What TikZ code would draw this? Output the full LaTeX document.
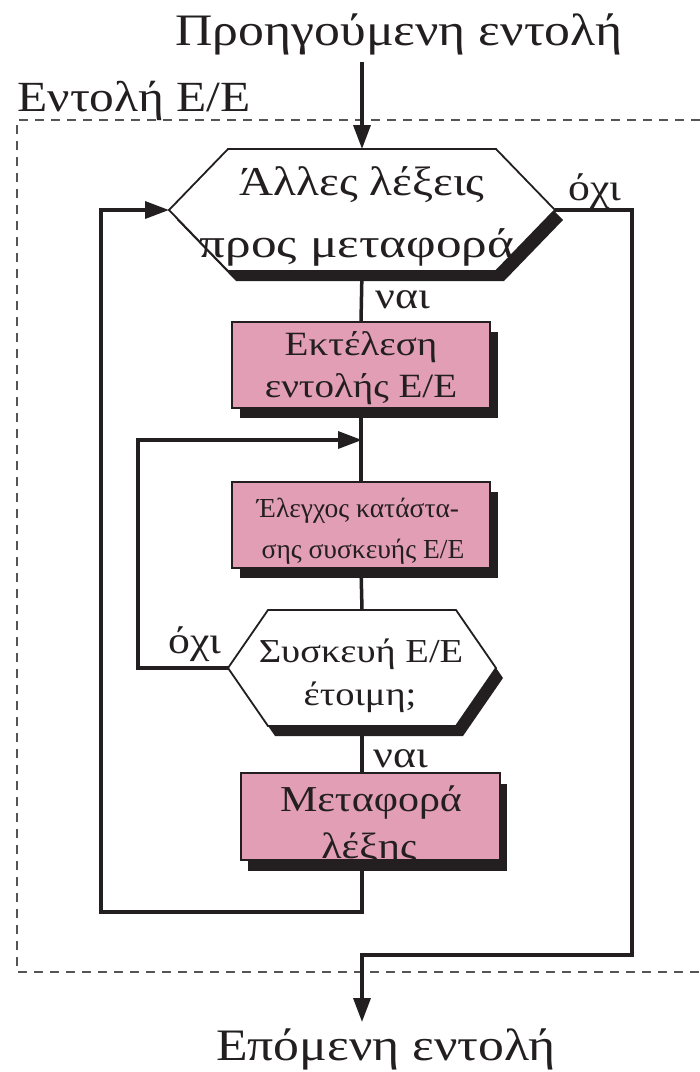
\documentclass[tikz,border=0pt]{standalone}
\usepackage{fontspec}
\setmainfont[FakeStretch=1.15]{Liberation Serif}
\newfontfamily\plainserif{Liberation Serif}
\usetikzlibrary{arrows.meta,calc,backgrounds}
\definecolor{ink}{RGB}{35,31,32}
\definecolor{rose}{RGB}{226,158,180}
\definecolor{framegray}{RGB}{85,85,85}
\begin{document}
\begin{tikzpicture}[x=1pt,y=-1pt,
  every node/.style={inner sep=0pt, outer sep=0pt, text=ink},
  flow/.style={draw=ink, line width=3.5pt},
  arr/.style={flow, -{Triangle[length=24pt,width=17pt]}},
  box/.style={draw=ink, line width=1.8pt, fill=rose, rectangle},
  hexline/.style={draw=ink, line width=1.8pt, fill=white},
  txt/.style={anchor=base},
  lbl/.style={anchor=base, font=\fontsize{38}{38}\selectfont},
]
\useasboundingbox (0,0) rectangle (700,1072);

% surrounding dashed frame of the I/O command
\draw[framegray, line width=2pt, dash pattern=on 9pt off 7pt]
  (700,120) -- (17,120) -- (17,972) -- (700,972);

% outer texts
\node[txt, font=\fontsize{45}{45}\selectfont] (prev) at (399,45) {Προηγούμενη εντολή};
\node[txt, font=\fontsize{43}{43}\selectfont] (cmd) at (134,111) {Εντολή Ε/Ε};
\node[txt, font=\fontsize{45}{45}\selectfont] (next) at (386,1060) {Επόμενη εντολή};

% anchor holders for the two decision hexagons
\node[minimum width=386pt, minimum height=122pt] (h1) at (362,210) {};
\node[minimum width=268pt, minimum height=116pt] (h2) at (362,668) {};

% process boxes
\node[box, minimum width=258pt, minimum height=86pt] (b1) at (361,365) {};
\node[box, minimum width=258pt, minimum height=86pt] (b2) at (361,525) {};
\node[box, minimum width=259pt, minimum height=87pt] (b3) at (370.5,816.5) {};

% drop shadows
\begin{scope}[on background layer]
  \fill[ink] ($(b1.south west)+(8,10)$) rectangle ($(b1.north east)+(8,10)$);
  \fill[ink] ($(b2.south west)+(8,10)$) rectangle ($(b2.north east)+(8,10)$);
  \fill[ink] ($(b3.south west)+(7,11)$) rectangle ($(b3.north east)+(7,11)$);
\end{scope}

% decision hexagon 1 with shadow
\begin{scope}[shift={(362,210)}]
  \fill[ink, shift={(8,10)}] (-134,-61) -- (134,-61) -- (193,0) -- (134,61) -- (-134,61) -- (-193,0) -- cycle;
  \path[hexline] (-134,-61) -- (134,-61) -- (193,0) -- (134,61) -- (-134,61) -- (-193,0) -- cycle;
\end{scope}
% decision hexagon 2 with shadow
\begin{scope}[shift={(362,668)}]
  \fill[ink, shift={(7,10)}] (-94,-58) -- (94,-58) -- (134,0) -- (94,58) -- (-94,58) -- (-134,0) -- cycle;
  \path[hexline] (-94,-58) -- (94,-58) -- (134,0) -- (94,58) -- (-94,58) -- (-134,0) -- cycle;
\end{scope}

% texts inside the shapes
\node[txt, font=\fontsize{41}{41}\selectfont] (h1a) at (362,195) {Άλλες λέξεις};
\node[txt, font=\fontsize{41}{41}\selectfont\addfontfeature{FakeStretch=1.25}] (h1b) at (357,257) {προς μεταφορά};
\node[txt, font=\fontsize{34}{34}\selectfont] (b1a) at (361,355) {Εκτέλεση};
\node[txt, font=\fontsize{34}{34}\selectfont] (b1b) at (361,397) {εντολής Ε/Ε};
\node[txt, font=\plainserif\fontsize{27.5}{27.5}\selectfont] (b2a) at (358,517) {Έλεγχος κατάστα-};
\node[txt, font=\plainserif\fontsize{27.5}{27.5}\selectfont] (b2b) at (363,558) {σης συσκευής Ε/Ε};
\node[txt, font=\fontsize{33.5}{33.5}\selectfont] (h2a) at (361,662) {Συσκευή Ε/Ε};
\node[txt, font=\fontsize{33.5}{33.5}\selectfont] (h2b) at (360,705) {έτοιμη;};
\node[txt, font=\fontsize{36.5}{36.5}\selectfont] (b3a) at (371,811) {Μεταφορά};
\node[txt, font=\fontsize{36.5}{36.5}\selectfont] (b3b) at (369,858) {λέξης};

% branch labels
\node[lbl] (no1) at (595,200) {όχι};
\node[lbl] (no2) at (195,653) {όχι};
\node[lbl] (yes1) at (403,308) {ναι};
\node[lbl] (yes2) at (401,767) {ναι};

% free ends of connectors
\coordinate (in) at (362,62);
\coordinate (junc) at (362,440);
\coordinate (out) at (362,1022);

% connectors
\draw[arr] (in) -- (h1.north);
\draw[flow] (h1.south) -- (b1.north);
\draw[flow] (b1.south) -- (b2.north);
\draw[flow] (b2.south) -- (h2.north);
\draw[flow] (h2.south) -- (h2.south |- b3.north);
\draw[arr] (h2.west) -- ++(-90,0) |- (junc);
\draw[arr] (b3.south -| h2.south) -- ++(0,52) -| ($(h1.west)+(-68,0)$) -- (h1.west);
\draw[arr] (h1.east) -- ++(77,0) |- ($(out)+(0,-67)$) -- (out);
\end{tikzpicture}
\end{document}
